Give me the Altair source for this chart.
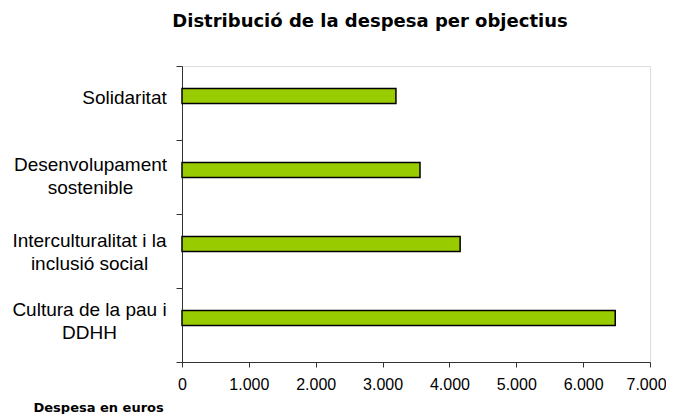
import altair as alt
import pandas as pd

categories = ["Solidaritat", "Desenvolupament|sostenible", "Interculturalitat i la|inclusió social", "Cultura de la pau i|DDHH"]
values = [3200, 3560, 4160, 6480]
x_ticks = [0, 1000, 2000, 3000, 4000, 5000, 6000, 7000]

df = pd.DataFrame({"objectiu": categories, "despesa": values})

pad_cond = {
    "condition": [
        {"test": "datum.value == 'Solidaritat'", "value": 52},
        {"test": "datum.value == 'Desenvolupament|sostenible'", "value": 86},
        {"test": "datum.value == 'Interculturalitat i la|inclusió social'", "value": 87},
    ],
    "value": 87,
}
off_cond = {
    "condition": [
        {"test": "datum.value == 'Solidaritat'", "value": -6},
        {"test": "datum.value == 'Desenvolupament|sostenible'", "value": -13},
        {"test": "datum.value == 'Interculturalitat i la|inclusió social'", "value": -11},
    ],
    "value": -16,
}
x_off_cond = {
    "condition": {"test": "datum.value == 7000", "value": -4},
    "value": 0,
}

chart = alt.Chart(df).mark_bar(
    color="#99CC00", stroke="#000000", strokeWidth=1.5, size=15, yOffset=-7
).encode(
    x=alt.X(
        "despesa:Q",
        scale=alt.Scale(domain=[0, 7000], nice=False),
        axis=alt.Axis(
            values=x_ticks,
            title="Despesa en euros",
            titleFont="DejaVu Sans",
            titleFontSize=13,
            titleFontWeight="bold",
            titleAnchor="start",
            titleAlign="left",
            titleBaseline="middle",
            titleX=-149,
            titleY=45,
            labelExpr="replace(format(datum.value, ','), ',', '.')",
            labelFont="Liberation Sans",
            labelFontSize=16,
            labelColor="#000000",
            labelPadding=9,
            labelOffset=x_off_cond,
            tickSize=5,
            tickColor="#333333",
            domainColor="#333333",
            grid=False,
            labelFlush=False,
            labelOverlap=False,
        ),
    ),
    y=alt.Y(
        "objectiu:N",
        sort=categories,
        scale=alt.Scale(paddingInner=0, paddingOuter=0),
        axis=alt.Axis(
            title=None,
            labelExpr="datum.value ? split(datum.value, '|') : ''",
            labelFont="Liberation Sans",
            labelFontSize=19,
            labelLineHeight=23,
            labelColor="#000000",
            labelAlign="center",
            labelBaseline="middle",
            labelPadding=pad_cond,
            labelOffset=off_cond,
            labelLimit=300,
            tickBand="extent",
            tickSize=6,
            tickColor="#333333",
            domainColor="#333333",
        ),
    ),
).properties(
    width=468,
    height=296,
    title=alt.TitleParams(
        "Distribució de la despesa per objectius",
        font="DejaVu Sans",
        fontSize=18,
        fontWeight="bold",
        color="#000000",
        anchor="middle",
        frame="group",
        dx=-46,
        offset=26,
    ),
    padding={"left": 174, "top": 58, "right": 16, "bottom": 52},
    autosize=alt.AutoSizeParams(type="none"),
).configure_view(stroke=None).configure(background="#ffffff")

chart.save("out.html", embed_options={"renderer": "svg", "actions": False})
